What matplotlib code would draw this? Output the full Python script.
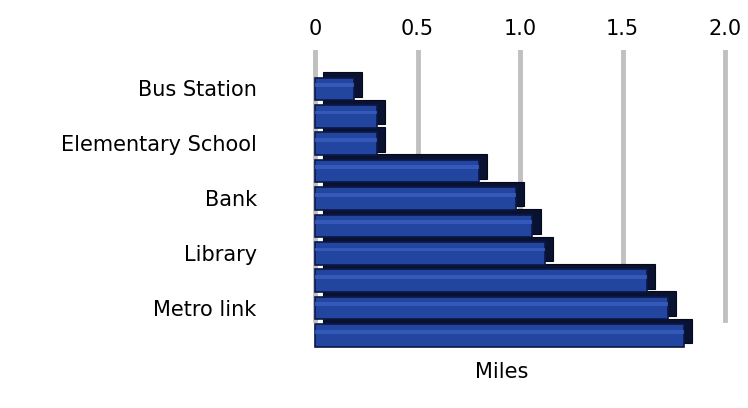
import matplotlib.pyplot as plt
import numpy as np

# Distance to amenities (miles), top to bottom
categories = ["Bus Station", "", "Elementary School", "", "Bank", "",
              "Library", "", "Metro link", ""]
miles = [0.19, 0.30, 0.30, 0.80, 0.98, 1.06, 1.12, 1.62, 1.72, 1.80]
tick_values = [0, 0.5, 1.0, 1.5, 2.0]
tick_labels = ["0", "0.5", "1.0", "1.5", "2.0"]

plt.rcParams["font.family"] = ["DejaVu Sans"]

fig = plt.figure(figsize=(7.48, 4.08), dpi=100)
ax = fig.add_axes([290 / 748, 1 - 350 / 408, 450 / 748, 300 / 408])

y = np.arange(len(categories))

# grey vertical gridlines behind the bars
for v in tick_values:
    ax.axvline(v, ymin=0.1, ymax=1.0, color="#c0c0c0", linewidth=3.5, zorder=0)

# dark "depth" of each bar, shifted up and to the right
ax.barh(y - 0.14, miles, left=0.04, height=0.9, color="#0a1232",
        edgecolor="#050918", linewidth=0.8, zorder=2)
# front face of each bar
ax.barh(y + 0.02, miles, height=0.82, color="#2245a0", edgecolor="#0c1846",
        linewidth=1.2, zorder=3)
# soft highlight along the face
ax.barh(y - 0.12, miles, height=0.14, color="#3a5fbf", linewidth=0,
        alpha=0.8, zorder=4)

ax.set_ylim(len(categories) - 0.45, -1.4)
ax.set_xlim(-25 / 205, 425 / 205)

ax.set_yticks(y)
ax.set_yticklabels(categories, fontsize=15)
ax.set_xticks(tick_values)
ax.set_xticklabels(tick_labels, fontsize=15)
ax.xaxis.tick_top()
ax.tick_params(length=0, pad=8)
ax.tick_params(axis="y", pad=24)
for s in ax.spines.values():
    s.set_visible(False)

fig.text(502 / 748, 1 - 372 / 408, "Miles", fontsize=15, ha="center", va="center")

fig.savefig("out.png", dpi=100)
